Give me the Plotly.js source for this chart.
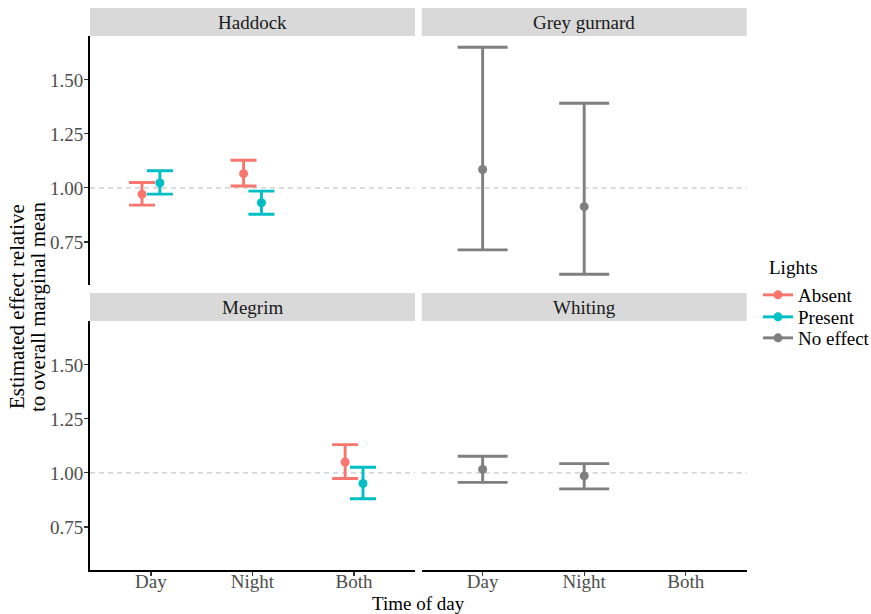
<!DOCTYPE html>
<html>
<head>
<meta charset="utf-8">
<script src="https://cdn.plot.ly/plotly-3.0.1.min.js"></script>
<style>html,body{margin:0;padding:0;background:#fff;}#chart{width:871px;height:614px;}</style>
</head>
<body>
<div id="chart"></div>
<script>
// ---- data ----
const timeCats = ['Day', 'Night', 'Both'];
const lightGroups = ['Absent', 'Present', 'No effect'];
const groupColors = ['#F8766D', '#00BFC4', '#7F7F7F'];
const speciesNames = ['Haddock', 'Grey gurnard', 'Megrim', 'Whiting'];
const yTicks = [0.75, 1.00, 1.25, 1.50];

const haddockAbsent  = { time: ['Day', 'Night'], est: [0.971, 1.066], lower: [0.920, 1.009], upper: [1.025, 1.128] };
const haddockPresent = { time: ['Day', 'Night'], est: [1.023, 0.931], lower: [0.971, 0.878], upper: [1.079, 0.985] };
const gurnardNoEffect = { time: ['Day', 'Night'], est: [1.085, 0.913], lower: [0.713, 0.600], upper: [1.651, 1.392] };
const megrimAbsent   = { time: ['Both'], est: [1.050], lower: [0.974], upper: [1.131] };
const megrimPresent  = { time: ['Both'], est: [0.951], lower: [0.880], upper: [1.026] };
const whitingNoEffect = { time: ['Day', 'Night'], est: [1.016, 0.986], lower: [0.956, 0.926], upper: [1.077, 1.043] };

// ---- layout geometry (pixels) ----
const W = 871, H = 614;
const colPx = [[90, 415], [421.7, 746.7]];
const rowPx = [[36, 285], [321, 570]];     // panel top/bottom
const stripH = 28;
const px2x = p => p / W;
const px2y = p => 1 - p / H;
const xDom = colPx.map(c => [px2x(c[0]), px2x(c[1])]);
const yDom = rowPx.map(r => [px2y(r[1]), px2y(r[0])]);

const dodge = { 'Absent': -0.088, 'Present': 0.088, 'No effect': 0 };
const capHalf = { 'Absent': 13, 'Present': 13, 'No effect': 25 };

function mkTrace(d, group, axisIdx) {
  const gi = lightGroups.indexOf(group);
  const sfx = axisIdx === 1 ? '' : String(axisIdx);
  return {
    type: 'scatter', mode: 'markers',
    x: d.time.map(t => timeCats.indexOf(t) + dodge[group]),
    y: d.est,
    xaxis: 'x' + sfx, yaxis: 'y' + sfx,
    marker: { color: groupColors[gi], size: 9 },
    error_y: {
      type: 'data', symmetric: false,
      array: d.upper.map((u, i) => u - d.est[i]),
      arrayminus: d.lower.map((l, i) => d.est[i] - l),
      color: groupColors[gi], thickness: 2.9, width: capHalf[group]
    },
    showlegend: false, hoverinfo: 'skip', cliponaxis: false
  };
}

const traces = [
  mkTrace(haddockAbsent, 'Absent', 1),
  mkTrace(haddockPresent, 'Present', 1),
  mkTrace(gurnardNoEffect, 'No effect', 2),
  mkTrace(megrimAbsent, 'Absent', 3),
  mkTrace(megrimPresent, 'Present', 3),
  mkTrace(whitingNoEffect, 'No effect', 4)
];

const FONT = 'Liberation Serif, Times New Roman, serif';
const legendKeys = ['legend', 'legend2', 'legend3'];
const legendRowPx = [295, 317, 338];
// legend entries (one small legend per entry so the row spacing matches)
lightGroups.forEach((g, i) => {
  traces.push({
    type: 'scatter', mode: 'lines+markers', x: [null], y: [null], name: g,
    legend: legendKeys[i],
    line: { color: groupColors[i], width: 2.9 },
    marker: { color: groupColors[i], size: 9 },
    showlegend: true, hoverinfo: 'skip'
  });
});

const xRange = [-0.6, 2.6];
const yRange = [0.5505, 1.703];

function xAxis(col, row, anchor) {
  const bottom = row === 1;
  return {
    domain: xDom[col], anchor: anchor, range: xRange, type: 'linear',
    showgrid: false, zeroline: false, automargin: false, fixedrange: true,
    showline: bottom, linecolor: '#000', linewidth: 2,
    ticks: bottom ? 'outside' : '', ticklen: 4, tickwidth: 1.2, tickcolor: '#333',
    tickvals: [0, 1, 2], ticktext: timeCats, showticklabels: bottom,
    ticklabelstandoff: -11,
    tickfont: { family: FONT, size: 19, color: '#4D4D4D' }
  };
}
function yAxis(col, row, anchor) {
  const left = col === 0;
  return {
    domain: yDom[row], anchor: anchor, range: yRange, type: 'linear',
    showgrid: false, zeroline: false, automargin: false, fixedrange: true,
    showline: left, linecolor: '#000', linewidth: 2,
    ticks: left ? 'outside' : '', ticklen: 4, tickwidth: 1.2, tickcolor: '#333',
    tickvals: yTicks, tickformat: '.2f', showticklabels: left,
    ticklabelstandoff: -3,
    tickfont: { family: FONT, size: 19, color: '#4D4D4D' }
  };
}

const shapes = [];
const annotations = [];
const panels = [[0, 0], [1, 0], [0, 1], [1, 1]];
panels.forEach((p, i) => {
  const [col, row] = p;
  const sfx = i === 0 ? '' : String(i + 1);
  // strip
  shapes.push({
    type: 'rect', xref: 'paper', yref: 'paper', layer: 'below',
    x0: xDom[col][0], x1: xDom[col][1],
    y0: px2y(rowPx[row][0]), y1: px2y(rowPx[row][0] - stripH),
    fillcolor: '#D9D9D9', line: { width: 0 }
  });
  annotations.push({
    xref: 'paper', yref: 'paper', x: (xDom[col][0] + xDom[col][1]) / 2,
    y: px2y(rowPx[row][0] - stripH / 2), text: speciesNames[i], showarrow: false,
    xanchor: 'center', yanchor: 'middle',
    font: { family: FONT, size: 19, color: '#1A1A1A' }
  });
  // reference line at 1
  shapes.push({
    type: 'line', xref: 'x' + sfx + ' domain', yref: 'y' + sfx,
    x0: 0, x1: 1, y0: 1, y1: 1, layer: 'below',
    line: { color: '#C8C8C8', width: 1.3, dash: '5px,4px' }
  });
});

annotations.push({
  xref: 'paper', yref: 'paper', x: px2x(418.5), y: px2y(603),
  text: 'Time of day', showarrow: false, xanchor: 'center', yanchor: 'middle',
  font: { family: FONT, size: 19, color: '#000' }
});
annotations.push({
  xref: 'paper', yref: 'paper', x: px2x(17), y: px2y(307),
  text: 'Estimated effect relative', showarrow: false, textangle: -90,
  xanchor: 'center', yanchor: 'middle',
  font: { family: FONT, size: 21, color: '#000' }
});
annotations.push({
  xref: 'paper', yref: 'paper', x: px2x(38), y: px2y(307),
  text: 'to overall marginal mean', showarrow: false, textangle: -90,
  xanchor: 'center', yanchor: 'middle',
  font: { family: FONT, size: 21, color: '#000' }
});
// legend title
annotations.push({
  xref: 'paper', yref: 'paper', x: px2x(767), y: px2y(267),
  text: 'Lights', showarrow: false, xanchor: 'left', yanchor: 'middle',
  font: { family: FONT, size: 19, color: '#000' }
});

const layout = {
  width: W, height: H,
  margin: { l: 0, r: 0, t: 0, b: 0, pad: 0, autoexpand: false },
  paper_bgcolor: '#fff', plot_bgcolor: 'rgba(0,0,0,0)',
  font: { family: FONT, size: 19, color: '#000' },
  xaxis: xAxis(0, 0, 'y'), yaxis: yAxis(0, 0, 'x'),
  xaxis2: xAxis(1, 0, 'y2'), yaxis2: yAxis(1, 0, 'x2'),
  xaxis3: xAxis(0, 1, 'y3'), yaxis3: yAxis(0, 1, 'x3'),
  xaxis4: xAxis(1, 1, 'y4'), yaxis4: yAxis(1, 1, 'x4'),
  shapes: shapes, annotations: annotations,
  showlegend: true
};
legendKeys.forEach((k, i) => {
  layout[k] = {
    xref: 'container', yref: 'container',
    x: px2x(758), y: px2y(legendRowPx[i]), xanchor: 'left', yanchor: 'middle',
    font: { family: FONT, size: 19, color: '#000' },
    bgcolor: 'rgba(0,0,0,0)', borderwidth: 0, tracegroupgap: 0
  };
});

Plotly.newPlot('chart', traces, layout, { displayModeBar: false, staticPlot: true });
</script>
</body>
</html>
